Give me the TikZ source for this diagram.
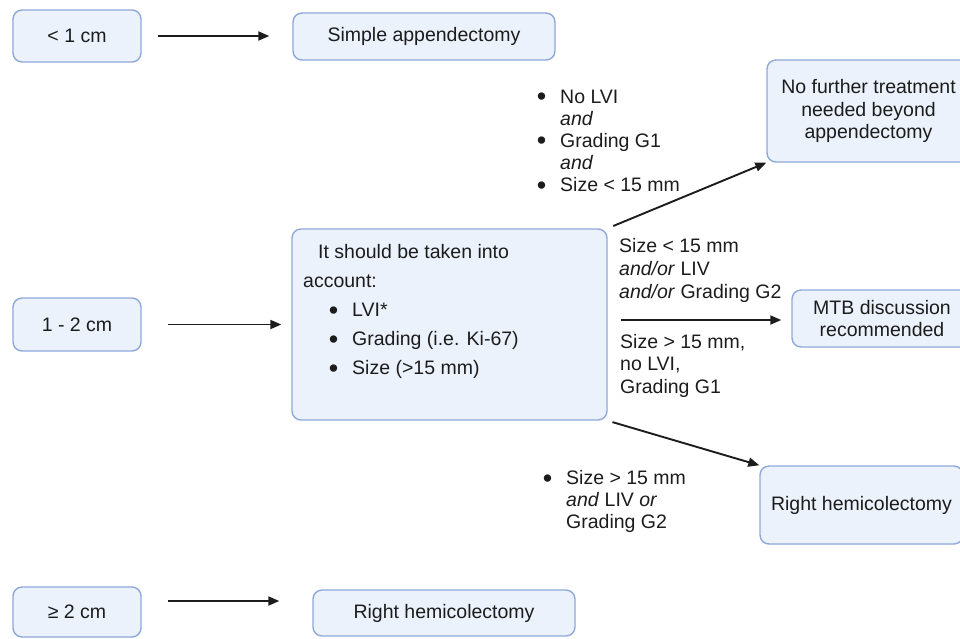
\documentclass[tikz,border=0pt]{standalone}
\usepackage{fontspec}
\setmainfont{Liberation Sans}
\usetikzlibrary{arrows.meta}
\definecolor{boxfill}{HTML}{EBF2FC}
\definecolor{boxline}{HTML}{8FA8D9}
\definecolor{ink}{HTML}{1C1C1C}
\newcommand{\bul}{\llap{\raisebox{-2.5pt}{\fontsize{27}{0}\selectfont\textbullet}\hspace{14pt}}}
\begin{document}
\begin{tikzpicture}[x=1pt,y=-1pt,
  font=\fontsize{19.5}{22.5}\selectfont, text=ink,
  box/.style={draw=boxline, fill=boxfill, line width=1.4pt, rounded corners=9pt,
    align=center, inner sep=0pt},
  arr/.style={-{Triangle[length=11pt,width=9pt]}, line width=1.9pt, draw=ink},
  t/.style={anchor=base west, inner sep=0pt}]
\useasboundingbox (0,0) rectangle (960,638);
\clip (0,0) rectangle (960,638);

% left size boxes
\node[box, minimum width=128pt, minimum height=52pt] (a1) at (77,36) {< 1 cm};
\node[box, minimum width=128pt, minimum height=53pt] (a2) at (77,324.5) {1 - 2 cm};
\node[box, minimum width=128pt, minimum height=50pt] (a3) at (77,612) {≥ 2 cm};

% outcome boxes
\node[box, minimum width=262pt, minimum height=47pt] (b1) at (424,36.5) {Simple appendectomy};
\node[box, minimum width=262pt, minimum height=46pt] (rh2) at (444,613) {Right hemicolectomy};
\node[box, minimum width=315pt, minimum height=191pt] (big) at (449.5,324.5) {};
\node[box, minimum width=203pt, minimum height=102pt] (nt) at (868.5,111)
  {No further treatment\\needed beyond\\appendectomy};
\node[box, minimum width=180pt, minimum height=57pt] (mtb) at (882,318.5)
  {MTB discussion\\recommended};
\node[box, minimum width=203pt, minimum height=78pt] (rh1) at (861.5,505)
  {Right hemicolectomy};

% text inside big box
\node[t] (bt1) at (318,258.5) {It should be taken into};
\node[t] (bt2) at (303,287.5) {account:};
\node[t] (bt3) at (352,316.5) {\bul LVI*};
\node[t] (bt4) at (352,345.5) {\bul Grading (i.e. Ki-67)};
\node[t] (bt5) at (352,374.5) {\bul Size (>15 mm)};

% condition labels: upper
\node[t] (u1) at (560,103) {\bul No LVI};
\node[t] (u2) at (560,125) {\textit{and}};
\node[t] (u3) at (560,147) {\bul Grading G1};
\node[t] (u4) at (560,169) {\textit{and}};
\node[t] (u5) at (560,191.5) {\bul Size < 15 mm};

% condition labels: middle
\node[t] (m1) at (619,252.5) {Size < 15 mm};
\node[t] (m2) at (619,275.5) {\textit{and/or} LIV};
\node[t] (m3) at (619,298.5) {\textit{and/or} Grading G2};
\node[t] (m4) at (620,348.5) {Size > 15 mm,};
\node[t] (m5) at (620,370.5) {no LVI,};
\node[t] (m6) at (620,393.5) {Grading G1};

% condition labels: lower
\node[t] (l1) at (566,484.5) {\bul Size > 15 mm};
\node[t] (l2) at (566,506.5) {\textit{and} LIV \textit{or}};
\node[t] (l3) at (566,528.5) {Grading G2};

% connectors
\draw[arr, shorten <=16pt, shorten >=23pt] (a1.east) -- (a1.east -| b1.west);
\draw[arr, shorten <=26pt, shorten >=10pt] (a2.east) -- (a2.east -| big.west);
\draw[arr, shorten <=26pt, shorten >=33pt] ([yshift=11pt]a3.east) -- ([yshift=11pt]a3.east -| rh2.west);
\draw[arr, shorten <=6pt] (big.north east) -- (nt.south west);
\draw[arr, shorten <=13pt, shorten >=10pt] ([yshift=4.5pt]big.east) -- ([yshift=4.5pt]big.east -| mtb.west);
\draw[arr, shorten <=5pt] (big.south east) -- (rh1.north west);
\end{tikzpicture}
\end{document}
